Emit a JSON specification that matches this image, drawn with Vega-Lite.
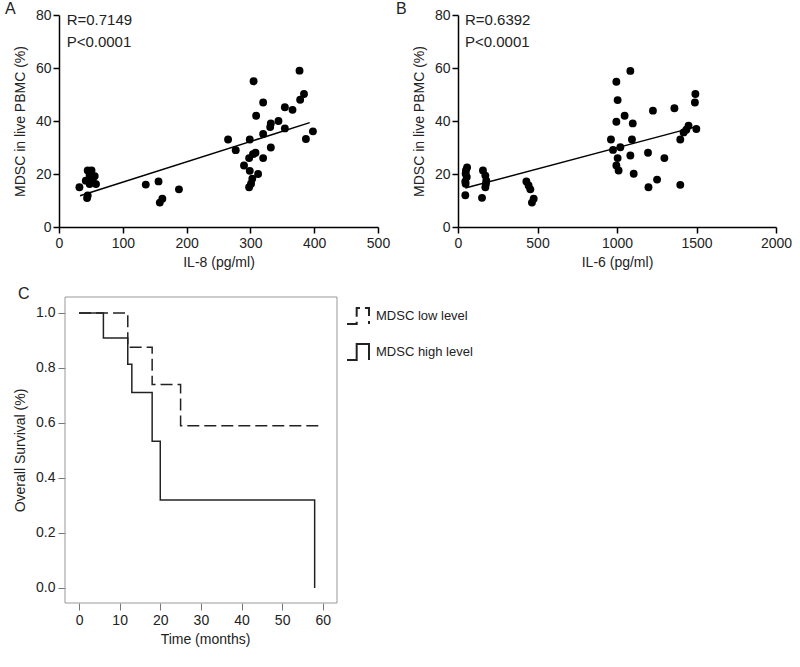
{
  "$schema": "https://vega.github.io/schema/vega-lite/v6.json",
  "padding": {"left": 5, "top": 1, "right": 5, "bottom": 5},
  "background": "white",
  "columns": 2,
  "bounds": "flush",
  "spacing": {"row": 70, "column": 80},
  "resolve": {"legend": {"strokeDash": "independent"}},
  "config": {
    "font": "Liberation Sans",
    "view": {"stroke": null},
    "axis": {"labelFont": "Liberation Sans", "titleFont": "Liberation Sans", "labelFontSize": 14, "titleFontSize": 14, "titleFontWeight": "normal", "labelColor": "#222", "titleColor": "#222", "grid": false, "labelFlush": false, "labelOverlap": false},
    "title": {"font": "Liberation Sans", "fontSize": 16, "fontWeight": "normal", "color": "#222", "anchor": "start", "frame": "group"}
  },
  "datasets": {
    "il8": [
      {"il8": 32, "mdsc": 15}, {"il8": 42, "mdsc": 17.5}, {"il8": 45, "mdsc": 21.3}, {"il8": 51, "mdsc": 21.3},
      {"il8": 48, "mdsc": 19.4}, {"il8": 56, "mdsc": 19.2}, {"il8": 58, "mdsc": 16.2}, {"il8": 45, "mdsc": 11.9},
      {"il8": 44, "mdsc": 10.9}, {"il8": 53, "mdsc": 17.5}, {"il8": 48, "mdsc": 16.2},
      {"il8": 136, "mdsc": 16}, {"il8": 156, "mdsc": 17.2}, {"il8": 158, "mdsc": 9.2}, {"il8": 162, "mdsc": 10.7},
      {"il8": 188, "mdsc": 14.2},
      {"il8": 265, "mdsc": 33}, {"il8": 277, "mdsc": 29}, {"il8": 290, "mdsc": 23.2}, {"il8": 299, "mdsc": 33},
      {"il8": 305, "mdsc": 55}, {"il8": 320, "mdsc": 47}, {"il8": 309, "mdsc": 42}, {"il8": 298, "mdsc": 26},
      {"il8": 299, "mdsc": 21.2}, {"il8": 304, "mdsc": 27.5}, {"il8": 308, "mdsc": 28}, {"il8": 298, "mdsc": 15},
      {"il8": 301, "mdsc": 16.3}, {"il8": 303, "mdsc": 18.2}, {"il8": 312, "mdsc": 20}, {"il8": 320, "mdsc": 26},
      {"il8": 320, "mdsc": 35.1}, {"il8": 332, "mdsc": 39.1}, {"il8": 331, "mdsc": 37.7}, {"il8": 344, "mdsc": 40},
      {"il8": 332, "mdsc": 30}, {"il8": 354, "mdsc": 45.2}, {"il8": 354, "mdsc": 37.2}, {"il8": 366, "mdsc": 44.2},
      {"il8": 377, "mdsc": 59}, {"il8": 378, "mdsc": 48}, {"il8": 384, "mdsc": 50.2}, {"il8": 387, "mdsc": 33.2},
      {"il8": 398, "mdsc": 36.1}
    ],
    "il8fit": [{"il8": 33, "mdsc": 11.8}, {"il8": 393, "mdsc": 39.4}],
    "il6": [
      {"il6": 46, "mdsc": 17.2}, {"il6": 48, "mdsc": 16.3}, {"il6": 55, "mdsc": 18.9}, {"il6": 48, "mdsc": 20.1},
      {"il6": 50, "mdsc": 21.3}, {"il6": 57, "mdsc": 22.5}, {"il6": 46, "mdsc": 12},
      {"il6": 151, "mdsc": 11}, {"il6": 157, "mdsc": 21.3}, {"il6": 172, "mdsc": 19.4}, {"il6": 178, "mdsc": 17.5},
      {"il6": 172, "mdsc": 15}, {"il6": 176, "mdsc": 16.3},
      {"il6": 430, "mdsc": 17.2}, {"il6": 444, "mdsc": 15.7}, {"il6": 455, "mdsc": 14.2}, {"il6": 465, "mdsc": 9.2},
      {"il6": 476, "mdsc": 10.7},
      {"il6": 962, "mdsc": 33}, {"il6": 975, "mdsc": 29.1}, {"il6": 996, "mdsc": 23.2}, {"il6": 1010, "mdsc": 21.3},
      {"il6": 1004, "mdsc": 26}, {"il6": 1021, "mdsc": 30.1}, {"il6": 996, "mdsc": 39.7}, {"il6": 1004, "mdsc": 47.9},
      {"il6": 996, "mdsc": 54.8}, {"il6": 1048, "mdsc": 42}, {"il6": 1084, "mdsc": 58.9}, {"il6": 1099, "mdsc": 39.1},
      {"il6": 1094, "mdsc": 33}, {"il6": 1084, "mdsc": 27}, {"il6": 1105, "mdsc": 20.1}, {"il6": 1195, "mdsc": 28},
      {"il6": 1226, "mdsc": 43.9}, {"il6": 1198, "mdsc": 15}, {"il6": 1252, "mdsc": 17.9}, {"il6": 1298, "mdsc": 26},
      {"il6": 1361, "mdsc": 44.8}, {"il6": 1398, "mdsc": 15.9}, {"il6": 1398, "mdsc": 33}, {"il6": 1419, "mdsc": 35.7},
      {"il6": 1436, "mdsc": 36.7}, {"il6": 1450, "mdsc": 38.2}, {"il6": 1493, "mdsc": 50.2}, {"il6": 1490, "mdsc": 47},
      {"il6": 1499, "mdsc": 37}
    ],
    "il6fit": [{"il6": 46, "mdsc": 14.7}, {"il6": 1482, "mdsc": 37.6}],
    "km": [
      {"group": "MDSC low level", "time": 0, "surv": 1.0},
      {"group": "MDSC low level", "time": 12, "surv": 0.875},
      {"group": "MDSC low level", "time": 18, "surv": 0.74},
      {"group": "MDSC low level", "time": 25, "surv": 0.59},
      {"group": "MDSC low level", "time": 60, "surv": 0.59},
      {"group": "MDSC high level", "time": 0, "surv": 1.0},
      {"group": "MDSC high level", "time": 6, "surv": 0.909},
      {"group": "MDSC high level", "time": 12, "surv": 0.813},
      {"group": "MDSC high level", "time": 13, "surv": 0.711},
      {"group": "MDSC high level", "time": 18, "surv": 0.533},
      {"group": "MDSC high level", "time": 20, "surv": 0.32},
      {"group": "MDSC high level", "time": 58, "surv": 0.0}
    ]
  },
  "concat": [
    {
      "title": {"text": "A", "dx": -54, "offset": -9},
      "width": 319, "height": 212,
      "layer": [
        {
          "data": {"name": "il8"},
          "mark": {"type": "circle", "size": 62, "opacity": 1, "color": "black"},
          "encoding": {
            "x": {"field": "il8", "type": "quantitative", "scale": {"domain": [0, 500], "nice": false}, "title": "IL-8 (pg/ml)",
              "axis": {"values": [0, 100, 200, 300, 400, 500], "domainColor": "black", "domainWidth": 1.5, "tickColor": "black", "tickWidth": 1.5, "tickSize": 6, "labelPadding": 3, "titlePadding": 5}},
            "y": {"field": "mdsc", "type": "quantitative", "scale": {"domain": [0, 80], "nice": false}, "title": "MDSC in live PBMC (%)",
              "axis": {"values": [0, 20, 40, 60, 80], "domainColor": "black", "domainWidth": 1.5, "tickColor": "black", "tickWidth": 1.5, "tickSize": 6, "labelPadding": 2, "titlePadding": 8}}
          }
        },
        {
          "data": {"name": "il8fit"},
          "mark": {"type": "line", "color": "black", "strokeWidth": 1.5},
          "encoding": {"x": {"field": "il8", "type": "quantitative"}, "y": {"field": "mdsc", "type": "quantitative"}}
        },
        {
          "data": {"values": [{"t": "R=0.7149", "x": 12, "y": 78}, {"t": "P<0.0001", "x": 12, "y": 70}]},
          "mark": {"type": "text", "align": "left", "baseline": "middle", "fontSize": 15, "color": "#222"},
          "encoding": {"x": {"field": "x", "type": "quantitative"}, "y": {"field": "y", "type": "quantitative"}, "text": {"field": "t"}}
        }
      ]
    },
    {
      "title": {"text": "B", "dx": -62, "offset": -9},
      "width": 318, "height": 212,
      "layer": [
        {
          "data": {"name": "il6"},
          "mark": {"type": "circle", "size": 62, "opacity": 1, "color": "black"},
          "encoding": {
            "x": {"field": "il6", "type": "quantitative", "scale": {"domain": [0, 2000], "nice": false}, "title": "IL-6 (pg/ml)",
              "axis": {"values": [0, 500, 1000, 1500, 2000], "format": "d", "domainColor": "black", "domainWidth": 1.5, "tickColor": "black", "tickWidth": 1.5, "tickSize": 6, "labelPadding": 3, "titlePadding": 5}},
            "y": {"field": "mdsc", "type": "quantitative", "scale": {"domain": [0, 80], "nice": false}, "title": "MDSC in live PBMC (%)",
              "axis": {"values": [0, 20, 40, 60, 80], "domainColor": "black", "domainWidth": 1.5, "tickColor": "black", "tickWidth": 1.5, "tickSize": 6, "labelPadding": 2, "titlePadding": 8}}
          }
        },
        {
          "data": {"name": "il6fit"},
          "mark": {"type": "line", "color": "black", "strokeWidth": 1.5},
          "encoding": {"x": {"field": "il6", "type": "quantitative"}, "y": {"field": "mdsc", "type": "quantitative"}}
        },
        {
          "data": {"values": [{"t": "R=0.6392", "x": 44, "y": 78}, {"t": "P<0.0001", "x": 44, "y": 70}]},
          "mark": {"type": "text", "align": "left", "baseline": "middle", "fontSize": 15, "color": "#222"},
          "encoding": {"x": {"field": "x", "type": "quantitative"}, "y": {"field": "y", "type": "quantitative"}, "text": {"field": "t"}}
        }
      ]
    },
    {
      "title": {"text": "C", "dx": -41, "offset": -5},
      "width": 278, "height": 306,
      "layer": [
        {
          "data": {"values": [{"box": "frame"}]},
          "mark": {"type": "rect", "fill": "transparent", "stroke": "#999", "strokeWidth": 1},
          "encoding": {
            "x": {"datum": -3.45, "type": "quantitative"},
            "x2": {"datum": 63.5},
            "y": {"datum": -0.055, "type": "quantitative"},
            "y2": {"datum": 1.058}
          }
        },
        {
          "data": {"name": "km"},
          "mark": {"type": "line", "interpolate": "step-after", "strokeWidth": 1.5, "color": "#222"},
          "encoding": {
            "x": {"field": "time", "type": "quantitative", "scale": {"domain": [-4.93, 63.5], "nice": false, "zero": false}, "title": "Time (months)",
              "axis": {"values": [0, 10, 20, 30, 40, 50, 60], "domain": false, "tickColor": "#777", "tickSize": 7, "labelPadding": 3, "titlePadding": 5, "titleX": 146}},
            "y": {"field": "surv", "type": "quantitative", "scale": {"domain": [-0.055, 1.058], "nice": false, "zero": false}, "title": "Overall Survival (%)",
              "axis": {"values": [0, 0.2, 0.4, 0.6, 0.8, 1.0], "format": ".1f", "domain": false, "offset": -6, "tickColor": "#777", "tickSize": 7, "labelPadding": 3, "titlePadding": 8}},
            "strokeDash": {"field": "group", "type": "nominal", "scale": {"domain": ["MDSC low level", "MDSC high level"], "range": [[12, 5], [1, 0]]},
              "legend": {"title": null, "orient": "none", "legendX": 287, "legendY": 7, "labelFontSize": 13, "labelColor": "#222", "labelFont": "Liberation Sans",
                "symbolType": "M-1,0.73H-0.12V-0.73H1V0.73", "symbolSize": 484, "symbolStrokeWidth": 2, "symbolStrokeColor": "#222", "symbolFillColor": "transparent", "symbolDash": [6, 3], "rowPadding": 10, "labelOffset": 6}}
          }
        }
      ]
    }
  ]
}
